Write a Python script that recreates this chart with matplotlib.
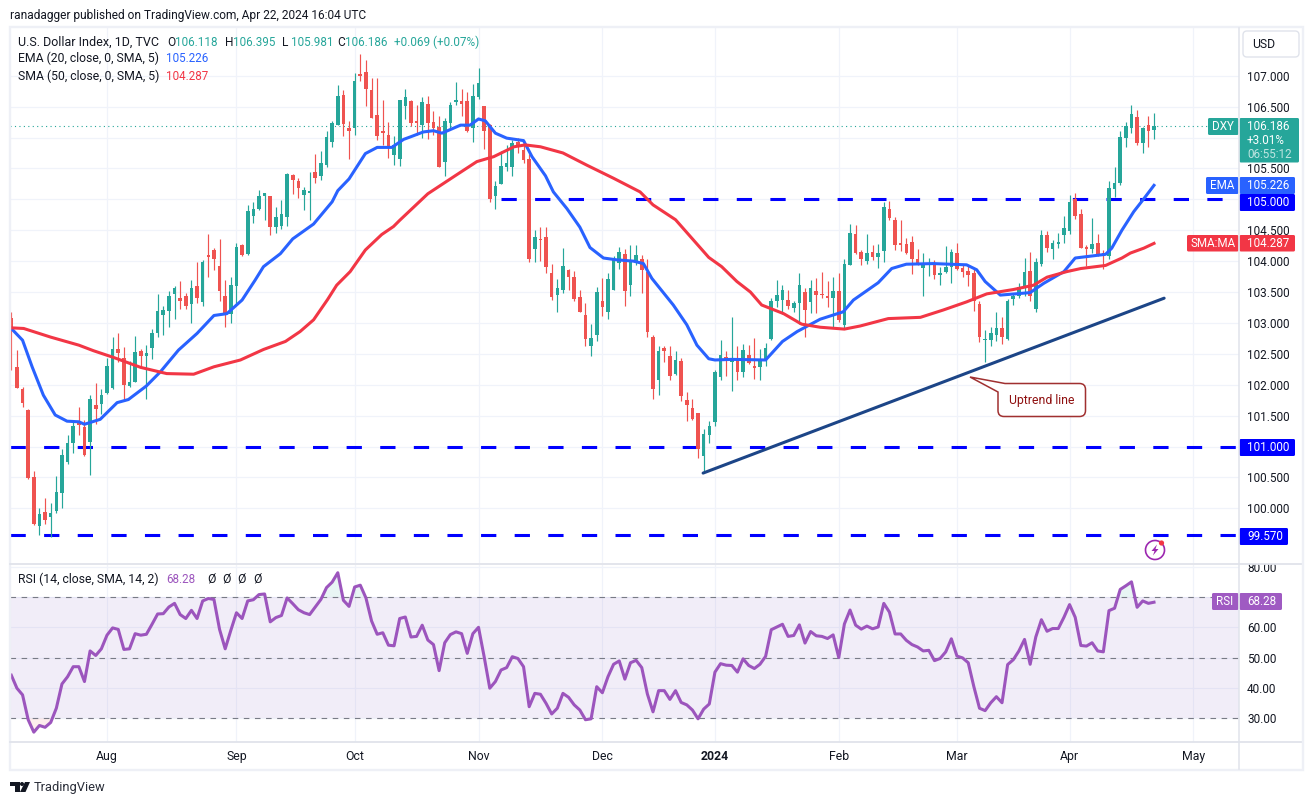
"""U.S. Dollar Index daily candles with EMA/SMA and an RSI pane, TradingView look."""
import numpy as np
import matplotlib
matplotlib.use("Agg")
import matplotlib.pyplot as plt
import matplotlib.patches as mpatches
from matplotlib.path import Path
from matplotlib.transforms import Bbox

plt.rcParams["font.family"] = ["Roboto", "DejaVu Sans"]

W, H = 1313, 805
GREEN = "#26a69a"
RED = "#ef5350"
BLUE = "#2962ff"
SMA_RED = "#f23645"
PURPLE = "#9c55bd"
BADGE_PURPLE = "#9f5ac2"
INK = "#131722"
FRAME = "#e0e3eb"
OUTER = "#eef0f6"
GRID = "#f0f3fa"

# ── Data ──────────────────────────────────────────────────────────────────────
OPENS = [
    103.08, 102.28, 101.93, 101.59, 100.50, 99.72, 99.94, 99.86, 99.96, 100.25,
    100.75, 101.06, 101.42, 101.32, 101.07, 101.67, 101.68, 101.86, 101.94, 102.57,
    102.44, 101.98, 102.05, 102.55, 102.47, 102.60, 102.84, 103.13, 103.20, 103.46,
    103.40, 103.43, 103.31, 103.59, 103.34, 104.09, 104.18, 103.92, 103.43, 103.15,
    103.60, 104.26, 104.12, 104.73, 104.84, 105.06, 105.05, 104.55, 104.57, 104.72,
    105.39, 105.30, 105.07, 105.11, 105.44, 105.38, 105.56, 105.93, 106.21, 106.69,
    106.15, 106.16, 107.03, 107.06, 106.77, 106.36, 106.10, 106.04, 105.72, 105.65,
    106.51, 106.59, 106.26, 106.20, 106.54, 106.25, 106.17, 105.61, 106.24, 106.57,
    106.59, 106.59, 106.16, 106.66, 106.51, 106.21, 105.05, 105.25, 105.52, 105.53,
    105.92, 105.80, 105.65, 104.20, 104.36, 104.39, 103.80, 103.45, 103.53, 103.86,
    103.74, 103.42, 103.12, 102.63, 102.80, 103.35, 103.18, 103.53, 103.97, 104.11,
    103.61, 103.98, 104.03, 103.83, 102.78, 102.08, 102.59, 102.46, 102.17, 102.38,
    101.75, 101.63, 101.55, 100.85, 101.18, 101.40, 102.12, 102.45, 102.37, 102.44,
    102.21, 102.48, 102.29, 102.28, 102.40, 102.74, 103.35, 103.37, 103.37, 103.24,
    103.33, 103.50, 103.34, 103.51, 103.47, 103.44, 103.40, 103.52, 102.97, 103.94,
    104.44, 104.15, 104.00, 104.14, 104.07, 104.17, 104.85, 104.67, 104.29, 104.28,
    104.31, 104.03, 103.89, 103.95, 103.95, 103.77, 103.82, 103.91, 104.13, 103.89,
    103.84, 103.80, 103.30, 102.72, 102.72, 102.80, 102.92, 102.74, 103.38, 103.43,
    103.58, 103.84, 103.23, 103.96, 104.42, 104.20, 104.28, 104.42, 104.48, 105.01,
    104.77, 104.23, 104.20, 104.29, 104.13, 104.09, 105.17, 105.26, 106.00, 106.15,
    106.33, 105.91, 106.20, 106.118,
]
HIGHS = [
    103.18, 102.56, 101.97, 101.61, 100.60, 100.00, 100.16, 100.08, 100.52, 100.96,
    101.19, 101.43, 101.64, 101.43, 101.83, 102.03, 101.93, 102.43, 102.77, 102.84,
    102.61, 102.38, 102.79, 102.58, 102.64, 102.90, 103.46, 103.27, 103.52, 103.60,
    103.68, 103.49, 103.70, 103.99, 104.02, 104.44, 104.22, 104.36, 103.70, 103.75,
    104.29, 104.28, 104.91, 104.96, 105.15, 105.11, 105.05, 104.88, 104.99, 105.43,
    105.41, 105.35, 105.20, 105.44, 105.73, 105.78, 106.11, 106.27, 106.85, 106.77,
    106.26, 107.05, 107.35, 107.25, 106.97, 106.97, 106.61, 106.25, 106.02, 106.61,
    106.78, 106.61, 106.53, 106.65, 106.67, 106.43, 106.34, 106.31, 106.57, 106.90,
    106.78, 106.74, 106.87, 107.12, 106.51, 106.22, 105.30, 105.78, 105.88, 105.96,
    106.00, 105.96, 105.73, 104.50, 104.55, 104.55, 103.96, 103.71, 104.21, 103.88,
    103.84, 103.53, 103.32, 102.99, 103.58, 103.72, 103.81, 104.08, 104.23, 104.19,
    104.26, 104.26, 104.10, 104.03, 102.80, 102.63, 102.63, 102.63, 102.55, 102.44,
    101.88, 101.77, 101.55, 101.28, 101.41, 102.24, 102.72, 102.54, 103.10, 102.62,
    102.66, 102.64, 102.75, 102.57, 102.67, 103.41, 103.69, 103.61, 103.54, 103.36,
    103.80, 103.56, 103.70, 103.72, 103.82, 103.68, 103.74, 103.80, 104.03, 104.60,
    104.58, 104.18, 104.44, 104.26, 104.28, 104.96, 104.97, 104.71, 104.67, 104.37,
    104.41, 104.19, 104.13, 104.05, 104.02, 103.90, 104.24, 104.19, 104.29, 103.96,
    103.94, 103.88, 103.35, 102.88, 102.93, 103.17, 103.10, 103.38, 103.48, 103.64,
    104.05, 104.14, 104.05, 104.50, 104.48, 104.34, 104.45, 104.73, 105.07, 105.10,
    104.84, 104.26, 104.69, 104.44, 104.18, 105.29, 105.52, 106.10, 106.25, 106.53,
    106.45, 106.17, 106.35, 106.395,
]
LOWS = [
    102.24, 101.94, 101.64, 100.48, 99.73, 99.57, 99.75, 99.54, 99.92, 100.01,
    100.72, 100.89, 101.18, 100.85, 100.54, 101.36, 101.53, 101.85, 101.93, 102.36,
    101.74, 101.97, 102.04, 102.27, 101.77, 102.42, 102.78, 102.80, 102.94, 103.06,
    103.22, 103.22, 103.00, 103.32, 103.28, 103.75, 103.86, 103.36, 102.94, 103.00,
    103.30, 104.08, 104.10, 104.61, 104.83, 104.67, 104.42, 104.46, 104.52, 104.57,
    105.08, 105.02, 104.82, 104.67, 105.27, 105.31, 105.53, 105.85, 106.20, 106.02,
    105.65, 106.04, 106.92, 106.51, 106.32, 105.96, 105.88, 105.67, 105.56, 105.54,
    106.30, 106.18, 106.04, 106.00, 105.98, 106.04, 105.52, 105.37, 106.15, 106.53,
    106.34, 106.09, 105.92, 106.63, 105.81, 104.95, 104.85, 105.25, 105.46, 105.38,
    105.75, 105.59, 103.99, 103.99, 104.00, 103.81, 103.37, 103.18, 103.48, 103.53,
    103.35, 103.17, 102.62, 102.47, 102.71, 103.11, 103.07, 103.53, 103.87, 103.27,
    103.43, 103.94, 103.49, 102.78, 101.77, 101.83, 102.36, 102.07, 102.15, 101.73,
    101.41, 101.43, 100.82, 100.58, 101.05, 101.33, 102.08, 102.14, 101.90, 102.08,
    102.12, 102.33, 102.10, 102.08, 102.31, 102.73, 103.26, 103.15, 103.22, 103.18,
    102.99, 102.78, 103.16, 103.16, 103.41, 103.26, 102.93, 103.02, 102.91, 103.94,
    104.12, 103.94, 103.95, 104.02, 103.89, 103.98, 104.66, 104.18, 104.17, 104.12,
    103.79, 103.94, 103.44, 103.76, 103.71, 103.61, 103.81, 103.65, 103.85, 103.74,
    103.59, 103.20, 102.69, 102.36, 102.63, 102.71, 102.66, 102.72, 103.29, 103.40,
    103.43, 103.36, 103.17, 103.92, 104.15, 104.03, 104.22, 104.30, 104.44, 104.68,
    104.22, 103.92, 104.13, 104.08, 103.88, 104.03, 105.03, 105.23, 105.85, 106.08,
    105.88, 105.75, 105.85, 105.981,
]
CLOSES = [
    102.90, 101.95, 101.70, 100.49, 99.75, 99.91, 99.81, 99.92, 100.26, 100.86,
    101.06, 101.33, 101.34, 100.87, 101.77, 101.60, 101.84, 102.30, 102.58, 102.51,
    102.00, 102.04, 102.53, 102.47, 102.51, 102.84, 103.19, 103.21, 103.44, 103.56,
    103.35, 103.27, 103.56, 103.41, 103.99, 104.07, 104.04, 103.52, 103.155, 103.61,
    104.23, 104.10, 104.81, 104.85, 105.05, 105.10, 104.56, 104.71, 104.76, 105.41,
    105.31, 105.19, 105.15, 105.12, 105.35, 105.59, 106.01, 106.24, 106.67, 106.22,
    106.11, 106.91, 107.00, 106.79, 106.32, 106.02, 106.07, 105.83, 105.88, 106.61,
    106.66, 106.24, 106.24, 106.58, 106.23, 106.15, 105.52, 106.26, 106.52, 106.61,
    106.54, 106.11, 106.67, 106.88, 106.11, 105.01, 105.22, 105.54, 105.59, 105.91,
    105.84, 105.63, 104.03, 104.39, 104.34, 103.90, 103.42, 103.57, 103.92, 103.74,
    103.39, 103.18, 102.74, 102.76, 103.50, 103.25, 103.71, 104.03, 104.15, 103.52,
    104.01, 104.10, 103.85, 102.86, 101.93, 102.55, 102.55, 102.14, 102.40, 101.82,
    101.67, 101.45, 100.96, 101.21, 101.33, 102.20, 102.48, 102.39, 102.43, 102.20,
    102.56, 102.35, 102.27, 102.42, 102.59, 103.36, 103.45, 103.53, 103.28, 103.32,
    103.61, 103.21, 103.57, 103.45, 103.45, 103.40, 103.51, 103.05, 103.95, 104.45,
    104.13, 104.04, 104.13, 104.07, 104.13, 104.87, 104.70, 104.26, 104.26, 104.13,
    104.03, 103.97, 103.94, 103.97, 103.77, 103.81, 103.91, 104.14, 103.87, 103.83,
    103.77, 103.36, 102.78, 102.74, 102.83, 102.91, 102.78, 103.36, 103.44, 103.58,
    103.82, 103.44, 103.98, 104.42, 104.22, 104.29, 104.29, 104.54, 104.96, 104.73,
    104.22, 104.20, 104.28, 104.10, 104.09, 105.18, 105.26, 106.01, 106.19, 106.38,
    105.91, 106.15, 106.11, 106.186,
]

EMA_IDX = [0, 2, 3.7, 5.7, 7.8, 9.9, 12, 13, 15.8, 18.8, 20.8, 24, 26.5, 29.7, 33, 36,
           38.3, 41, 43.3, 44.8, 47.8, 50, 53.7, 57, 58, 60, 62.9, 65, 67.6, 69.7, 70.9,
           73.2, 75, 76.5, 79.8, 81.5, 83, 84.2, 86, 88, 91, 92.5, 94.9, 96.3, 98.7, 101,
           102.8, 105.2, 107.6, 110.5, 112.3, 113.8, 117.6, 120, 121.8, 123.9, 125, 128,
           134, 137, 139.6, 143.7, 147.8, 149.6, 154, 156.4, 159, 163.8, 169.7, 171.5,
           173, 175.7, 181, 183.4, 187, 189, 194.4, 195.5, 197.3, 199.4, 201.2, 203]
EMA_VAL = [102.91, 102.72, 102.29, 101.83, 101.51, 101.41, 101.40, 101.36, 101.44, 101.71,
           101.76, 101.98, 102.21, 102.56, 102.83, 103.12, 103.15, 103.37, 103.69, 103.91,
           104.12, 104.36, 104.60, 104.96, 105.14, 105.33, 105.74, 105.84, 105.84, 105.97,
           106.01, 106.09, 106.11, 106.07, 106.20, 106.20, 106.30, 106.27, 106.07, 105.99,
           105.95, 105.69, 105.38, 105.12, 104.85, 104.55, 104.22, 104.05, 104.02, 104.00,
           103.96, 103.72, 103.29, 102.97, 102.64, 102.42, 102.40, 102.41, 102.40, 102.70,
           102.86, 103.06, 103.18, 103.37, 103.65, 103.88, 103.95, 103.96, 103.94, 103.86,
           103.67, 103.45, 103.49, 103.64, 103.83, 104.05, 104.11, 104.21, 104.50, 104.80,
           105.01, 105.226]

SMA_IDX = [0, 2.2, 7, 12, 14.6, 18.2, 23, 27.6, 32.4, 36, 40.7, 44.8, 48.7, 51.3, 53.7,
           56.2, 57.8, 60.2, 62.9, 65.8, 67.9, 69, 74, 79, 82.7, 85.7, 89.3, 91.3, 94, 98,
           102.3, 107, 111.7, 114, 118, 123.9, 126.2, 128.9, 131.3, 133.3, 137.2, 140.4,
           143.7, 148, 150.8, 155.8, 161.5, 165.6, 169.7, 173.3, 178, 181.6, 184, 187.5,
           190, 194.4, 197.3, 198.8, 201.2, 203]
SMA_VAL = [102.92, 102.91, 102.77, 102.64, 102.55, 102.44, 102.28, 102.18, 102.17, 102.29,
           102.40, 102.57, 102.70, 102.86, 103.05, 103.38, 103.61, 103.83, 104.18, 104.43,
           104.56, 104.66, 105.09, 105.39, 105.61, 105.69, 105.85, 105.88, 105.85, 105.75,
           105.55, 105.34, 105.12, 104.91, 104.67, 104.06, 103.91, 103.67, 103.50, 103.29,
           103.15, 102.98, 102.93, 102.90, 102.95, 103.07, 103.09, 103.21, 103.34, 103.47,
           103.54, 103.61, 103.74, 103.83, 103.88, 103.93, 104.05, 104.13, 104.21, 104.287]

RSI = [
    44.2, 39.9, 37.7, 29.5, 25.4, 27.6, 27.0, 28.6, 33.3, 41.3,
    43.7, 47.0, 47.0, 42.1, 52.2, 50.7, 52.9, 57.4, 59.8, 59.3,
    52.7, 52.9, 57.9, 57.4, 57.7, 61.0, 64.4, 64.5, 66.7, 67.9,
    64.2, 62.9, 65.6, 62.9, 68.7, 69.5, 69.2, 59.3, 52.9, 59.0,
    64.8, 62.9, 68.7, 69.1, 70.8, 71.0, 61.8, 63.2, 63.9, 69.7,
    67.8, 65.8, 64.8, 64.2, 66.7, 69.2, 73.1, 74.9, 78.0, 68.9,
    66.9, 73.3, 73.9, 69.7, 62.1, 57.7, 58.2, 54.1, 53.9, 62.9,
    63.4, 56.8, 57.0, 60.7, 55.8, 54.3, 45.7, 54.9, 57.6, 58.5,
    57.9, 51.4, 57.9, 60.0, 50.3, 39.9, 42.1, 45.9, 46.7, 50.3,
    49.7, 47.0, 33.8, 38.2, 37.9, 34.9, 31.4, 33.3, 38.2, 36.9,
    34.4, 32.7, 29.5, 29.8, 40.4, 38.4, 43.7, 47.8, 48.9, 42.9,
    48.3, 49.1, 46.7, 38.0, 32.1, 39.1, 39.1, 36.2, 39.1, 35.2,
    34.4, 32.7, 29.8, 33.0, 34.7, 45.2, 48.0, 47.5, 47.4, 45.2,
    49.6, 47.4, 46.4, 47.8, 50.4, 59.2, 60.1, 61.0, 57.0, 57.3,
    60.8, 54.8, 58.6, 57.2, 57.0, 56.3, 57.5, 50.0, 61.1, 65.7,
    60.7, 59.4, 60.4, 59.5, 60.1, 67.9, 65.0, 57.8, 57.8, 55.7,
    54.3, 53.5, 52.2, 52.4, 49.0, 49.7, 51.9, 56.2, 50.5, 49.9,
    48.3, 40.4, 33.3, 32.5, 35.1, 37.1, 35.1, 47.7, 49.3, 52.2,
    56.0, 47.8, 56.8, 62.5, 58.7, 59.6, 59.6, 63.3, 67.5, 63.3,
    54.0, 53.8, 54.9, 52.2, 51.9, 65.5, 66.3, 72.5, 73.7, 75.0,
    66.6, 68.7, 67.9, 68.28,
]

MONTH_IDX = [17, 40, 61, 83, 105, 125, 147, 168, 188, 210]
MONTH_LABELS = ["Aug", "Sep", "Oct", "Nov", "Dec", "2024", "Feb", "Mar", "Apr", "May"]
# 101, 105 and 106 sit under the price badges, so they get no axis label
PRICE_GRID = [100.0, 100.5, 101.0, 101.5, 102.0, 102.5, 103.0, 103.5, 104.0,
              104.5, 105.0, 105.5, 106.0, 106.5, 107.0]
PRICE_HIDDEN = [101.0, 105.0, 106.0]
RSI_TICKS = [30, 40, 50, 60, 70, 80]
RSI_BANDS = [30, 50, 70]

LAST_PRICE = 106.186
LEVELS = [105.0, 101.0, 99.57]
LEVEL_STARTS = [87.0, -0.2, -0.2]
TREND_IDX = [122.9, 204.8]
TREND_VAL = [100.57, 103.40]

XLIM = (-0.23, 218.1)
opens, highs, lows, closes = map(np.array, (OPENS, HIGHS, LOWS, CLOSES))
idx = np.arange(len(closes))
rsi = np.array(RSI)


def box(left, top, right, bottom):
    return [left / W, 1 - bottom / H, (right - left) / W, (bottom - top) / H]


fig = plt.figure(figsize=(W / 100, H / 100), dpi=100, facecolor="white")
ax = fig.add_axes(box(10, 28, 1239, 563))
ax_rsi = fig.add_axes(box(10, 565, 1239, 742))

# ── Price pane ───────────────────────────────────────────────────────────────
up = closes >= opens
colors = np.where(up, GREEN, RED)
ax.vlines(idx, lows, highs, colors=colors, lw=0.85, zorder=3)
bottoms = np.minimum(opens, closes)
heights = np.maximum(np.abs(closes - opens), 0.025)
ax.bar(idx, heights, bottom=bottoms, width=0.64, color=colors, linewidth=0, zorder=3)

ax.plot(EMA_IDX, EMA_VAL, color=BLUE, lw=2.2, zorder=4, solid_joinstyle="round")
ax.plot(SMA_IDX, SMA_VAL, color=SMA_RED, lw=2.2, zorder=4, solid_joinstyle="round")
ax.plot(TREND_IDX, TREND_VAL, color="#1c4587", lw=2.2, zorder=5, solid_capstyle="round")
for level, start in zip(LEVELS, LEVEL_STARTS):
    ax.plot([start, XLIM[1]], [level, level], color="#0000ff", lw=2.2,
            ls=(0, (5, 6)), dash_capstyle="butt", zorder=2.5)
ax.axhline(LAST_PRICE, color=GREEN, lw=0.8, ls=(0, (1, 3)), zorder=2)

ax.set_xlim(*XLIM)
ax.set_ylim(99.115, 107.772)
ax.set_yticks(PRICE_GRID)
ax.set_yticklabels(["" if t in PRICE_HIDDEN else f"{t:.3f}" for t in PRICE_GRID])
ax.set_xticks(MONTH_IDX)
ax.tick_params(axis="x", length=0, labelbottom=False)

# ── RSI pane ─────────────────────────────────────────────────────────────────
ax_rsi.axhspan(30, 70, color="#7e57c2", alpha=0.1, lw=0, zorder=1)
ax_rsi.fill_between(idx, 70, rsi, where=rsi > 70, interpolate=True, color=GREEN, alpha=0.1, lw=0)
ax_rsi.fill_between(idx, 30, rsi, where=rsi < 30, interpolate=True, color=RED, alpha=0.1, lw=0)
for band in RSI_BANDS:
    ax_rsi.axhline(band, color="#787b86", lw=0.8, ls=(0, (5, 5)), zorder=2)
ax_rsi.plot(idx, rsi, color=PURPLE, lw=2.2, zorder=4, solid_joinstyle="round")
ax_rsi.set_xlim(*XLIM)
ax_rsi.set_ylim(22.15, 80.56)
ax_rsi.set_yticks(RSI_TICKS)
ax_rsi.set_yticklabels([f"{t:.2f}" for t in RSI_TICKS])
ax_rsi.set_xticks(MONTH_IDX)
ax_rsi.set_xticklabels(MONTH_LABELS)

for a in (ax, ax_rsi):
    a.set_facecolor("white")
    a.set_axisbelow(True)
    a.grid(True, color=GRID, lw=0.9)
    a.yaxis.tick_right()
    a.tick_params(axis="y", length=0, pad=5.8, labelsize=8.5, labelcolor=INK)
    for s in a.spines.values():
        s.set_visible(False)
ax_rsi.tick_params(axis="x", length=0, pad=6, labelsize=8.8, labelcolor=INK)
ax_rsi.get_xticklabels()[5].set_fontweight("bold")

# the 80.00 label is cut by the top of the pane
for lab in ax_rsi.get_yticklabels():
    lab.set_clip_box(Bbox([[0, 0], [W, H - 564]]))
    lab.set_clip_on(True)

# ── Chrome drawn in pixel coordinates ────────────────────────────────────────
ov = fig.add_axes([0, 0, 1, 1], zorder=10)
ov.set_xlim(0, W)
ov.set_ylim(H, 0)
ov.axis("off")


def txt(x, y, s, color=INK, size=8.4, ha="left", **kw):
    ov.text(x, y, s, color=color, fontsize=size, ha=ha, va="center", **kw)


def badge(left, top, right, bottom, color):
    ov.add_patch(mpatches.FancyBboxPatch((left + 1, top + 1), right - left - 2, bottom - top - 2,
                                         boxstyle="round,pad=1,rounding_size=1.5", color=color, lw=0))


# frame
ov.add_patch(mpatches.Rectangle((9.5, 27), 1293, 743, fill=False, ec=OUTER, lw=1.7))
ov.plot([1239, 1239], [28, 769], color=FRAME, lw=1.1)
ov.plot([10, 1301], [563.5, 563.5], color=FRAME, lw=1.3)
ov.plot([10, 1301], [742, 742], color=FRAME, lw=1.3)

# header and legends
txt(10, 15, "ranadagger published on TradingView.com, Apr 22, 2024 16:04 UTC", size=8.6)
txt(18, 42, "U.S. Dollar Index, 1D, TVC", size=9)
for x, label, val in [(167, "O", "106.118"), (225, "H", "106.395"),
                      (282, "L", "105.981"), (337, "C", "106.186")]:
    txt(x, 42, label, size=8.6)
    txt(x + 8.5, 42, val, color=GREEN)
txt(394, 42, "+0.069 (+0.07%)", color=GREEN, size=8.5)
txt(18, 58.5, "EMA (20, close, 0, SMA, 5)", size=8.8)
txt(166, 58.5, "105.226", color=BLUE)
txt(18, 76, "SMA (50, close, 0, SMA, 5)", size=8.8)
txt(166, 76, "104.287", color=SMA_RED)
txt(18, 579, "RSI (14, close, SMA, 14, 2)", size=8.8)
txt(166, 579, "68.28", color=PURPLE)
for x in (207, 222, 237, 253):
    txt(x, 579, "Ø", size=8.8)

# USD button
ov.add_patch(mpatches.FancyBboxPatch((1246, 34), 50, 20, boxstyle="round,pad=3,rounding_size=4",
                                     fc="white", ec=FRAME, lw=1))
txt(1252, 45, "USD", size=8.8)

# price badges
badge(1208, 118, 1238.5, 135, GREEN)
txt(1223, 126.5, "DXY", color="white", ha="center")
badge(1239.5, 118, 1299, 162.5, GREEN)
txt(1247, 126.5, "106.186", color="white")
txt(1247, 140.5, "+3.01%", color="white")
txt(1247, 154.5, "06:55:12", color="#bfe5e1")

badge(1206, 177, 1238.5, 194, BLUE)
txt(1222, 185.5, "EMA", color="white", ha="center")
badge(1239.5, 177, 1295, 194, BLUE)
txt(1247, 185.5, "105.226", color="white")
badge(1239.5, 194, 1295, 211, "#0000ff")
txt(1247, 202.5, "105.000", color="white")

badge(1187, 235, 1238.5, 251.5, SMA_RED)
txt(1213, 243.5, "SMA:MA", color="white", ha="center")
badge(1239.5, 235, 1295, 251.5, SMA_RED)
txt(1247, 243.5, "104.287", color="white")

badge(1239.5, 439, 1295, 456, "#0000ff")
txt(1247, 447.5, "101.000", color="white")
badge(1239.5, 528, 1288, 545, "#0000ff")
txt(1247, 536.5, "99.570", color="white")

badge(1212, 593, 1238.5, 610, BADGE_PURPLE)
txt(1225, 601.5, "RSI", color="white", ha="center")
badge(1239.5, 593, 1282, 610, BADGE_PURPLE)
txt(1247, 601.5, "68.28", color="white")

# uptrend callout
r = 6
L, T, R, B = 998, 383.5, 1085.5, 416.5
verts = [(970, 377), (1005, T), (R - r, T), (R, T), (R, T + r), (R, B - r), (R, B), (R - r, B),
         (L + r, B), (L, B), (L, B - r), (L, 392), (970, 377)]
codes = [Path.MOVETO, Path.LINETO, Path.LINETO, Path.CURVE3, Path.CURVE3, Path.LINETO, Path.CURVE3,
         Path.CURVE3, Path.LINETO, Path.CURVE3, Path.CURVE3, Path.LINETO, Path.CLOSEPOLY]
ov.add_patch(mpatches.PathPatch(Path(verts, codes), fc="white", ec="#a03030", lw=1.1))
txt(1041.5, 400.5, "Uptrend line", color="#8f1010", ha="center", size=8.8)

# snapshot marker
ov.add_patch(mpatches.Arc((1155, 550), 19, 19, theta1=-50, theta2=310, ec="#9c27b0", lw=1.2))
ov.add_patch(mpatches.Polygon([(1157, 544.5), (1151.5, 551), (1154.5, 551), (1153, 555.5),
                               (1158.5, 549), (1155.5, 549)], color="#9c27b0", lw=0))
ov.add_patch(mpatches.Circle((1161.5, 543), 2.6, color=SMA_RED, lw=0))

# footer logo
ov.add_patch(mpatches.Polygon([(10, 782), (19.5, 782), (19.5, 792), (14.5, 792), (14.5, 786), (10, 786)],
                              color=INK, lw=0))
ov.add_patch(mpatches.Circle((22, 784), 2, color=INK, lw=0))
ov.add_patch(mpatches.Polygon([(25, 782), (30, 782), (25.5, 792), (20, 792)], color=INK, lw=0))
txt(34, 787.5, "TradingView", color="#2a2e39", size=9.3)

fig.savefig("out.png", dpi=100)
plt.close(fig)
print("Saved: out.png")
